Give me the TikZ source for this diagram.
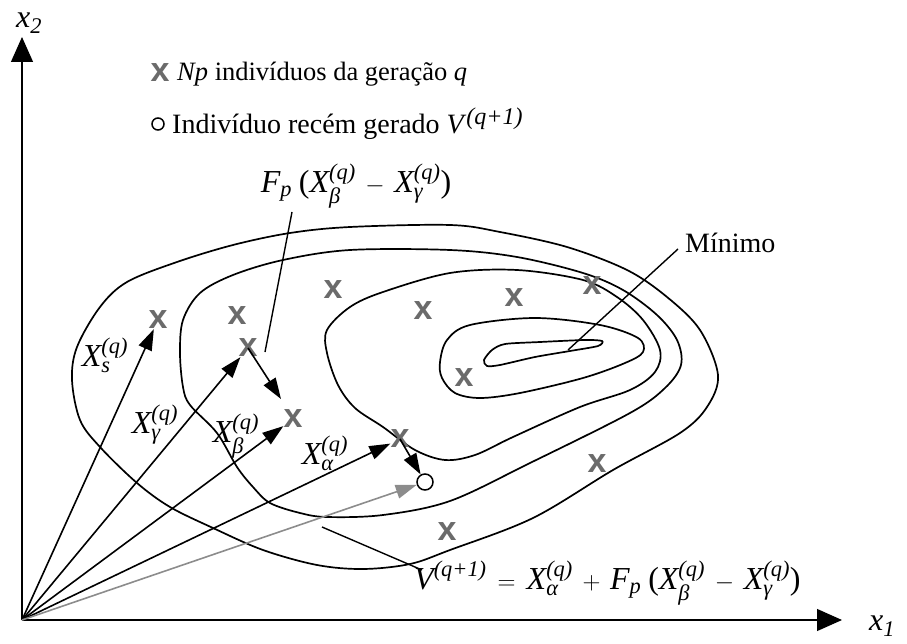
\documentclass[tikz,border=0pt]{standalone}
\usepackage{fontspec}
\usepackage{amsmath}
\setmainfont{Liberation Serif}
\newfontfamily\markfont{Liberation Sans}
\usetikzlibrary{arrows.meta}
\definecolor{mkgray}{gray}{0.42}
\definecolor{arrgray}{gray}{0.55}
\newcommand{\XX}[1]{\textit{X}^{\textit{(q)}}_{\textit{#1}}}
\begin{document}
\begin{tikzpicture}[x=1pt,y=-1pt,
  txt/.style={font=\fontsize{28}{32}\selectfont, inner sep=0pt},
  fml/.style={font=\fontsize{32}{36}\selectfont, inner sep=0pt},
  lbl/.style={font=\fontsize{32}{36}\selectfont, inner sep=0pt},
  mk/.style={font=\fontsize{34}{34}\selectfont\markfont\bfseries, text=mkgray, inner sep=0pt},
  cont/.style={line width=1.7pt},
  vec/.style={line width=1.6pt,-{Triangle[length=21pt,width=14pt]}},
  axis/.style={line width=1.2pt,-{Triangle[length=25pt,width=22pt]}},
  lead/.style={line width=1.4pt}]
\useasboundingbox (0,0) rectangle (907,644);

% axes
\coordinate (O) at (22,620);
\coordinate (xe) at (842,620);
\coordinate (ye) at (22,37);
\draw[axis] (O) -- (xe);
\draw[axis] (O) -- (ye);
\node[lbl] (x2) at (29,23) {\textit{x}$_{\textit{2}}$};
\node[lbl] (x1) at (882,626) {\textit{x}$_{\textit{1}}$};

% legend
\node[mk] (lm) at (160,73) {x};
\node[txt, anchor=west, font=\fontsize{26.5}{30}\selectfont] (l1) at (177,74) {\textit{Np} indivíduos da geração \textit{q}};
\node[draw, circle, line width=1.5pt, minimum size=12pt, inner sep=0pt] (lc) at (158,124) {};
\node[txt, anchor=west] (l2) at (172,124) {Indivíduo recém gerado \textit{V}\raisebox{9pt}{\fontsize{24}{24}\selectfont\textit{(q+1)}}};

% contours
\draw[cont] plot[smooth cycle, tension=0.55] coordinates {
 (450,225) (350,227) (290,233) (233,245) (177,262) (127,282) (100,307) (77,347) (72,380) (80,420) (100,447) (137,483) (170,507) (213,528) (263,550) (317,565) (363,569) (410,564) (450,550) (533,518) (613,470) (680,433) (707,407) (718,375) (700,330) (667,297) (627,270) (567,247) (500,232)};
\draw[cont] plot[smooth cycle, tension=0.55] coordinates {
 (450,250) (350,250) (283,260) (233,275) (200,293) (183,320) (180,353) (183,387) (190,405) (217,433) (237,467) (253,487) (270,503) (300,513) (327,517) (383,515) (450,501) (530,463) (630,413) (665,388) (681,365) (677,340) (657,315) (623,290) (583,273) (517,257)};
\draw[cont] plot[smooth cycle, tension=0.55] coordinates {
 (450,273) (383,292) (350,307) (327,330) (327,353) (338,385) (355,408) (383,427) (415,450) (445,460) (475,455) (513,437) (580,407) (630,390) (655,372) (660,350) (643,320) (617,297) (583,280) (517,270)};
\draw[cont] plot[smooth cycle, tension=0.55] coordinates {
 (440,362) (447,340) (470,325) (535,318) (600,325) (638,338) (643,352) (625,363) (583,378) (520,393) (480,398) (455,393) (442,378)};
\draw[cont] plot[smooth cycle, tension=0.45] coordinates {
 (484,360) (492,350) (505,344) (540,342) (585,340) (602,341) (598,346) (570,351) (535,357) (500,365) (487,366)};

% individuals
\node[mk] (ps) at (158,320) {x};
\node[mk] (p2) at (237,316) {x};
\node[mk] (p3) at (333,290) {x};
\node[mk] (p4) at (423,311) {x};
\node[mk] (p5) at (514,298) {x};
\node[mk] (p6) at (592,286) {x};
\node[mk] (p7) at (464,378) {x};
\node[mk] (pg) at (248,348) {x};
\node[mk] (pb) at (293,419) {x};
\node[mk] (pa) at (400,439) {x};
\node[mk] (p8) at (597,464) {x};
\node[mk] (p9) at (447,532) {x};
\node[draw, circle, line width=1.5pt, minimum size=16pt, inner sep=0pt] (v) at (425,482) {};

% vectors
\draw[vec] (O) -- (ps);
\draw[vec] (O) -- (pg);
\draw[vec] (O) -- (pb);
\draw[vec] (O) -- (pa);
\draw[vec, color=arrgray] (O) -- (v);
\coordinate (d1) at (281,399);
\draw[vec] (pg.center) -- (d1);
\draw[vec] (pa.center) -- (v);

% vector labels
\node[lbl] (ls) at (105,355) {$\XX{s}$};
\node[lbl] (lg) at (155,425) {$\XX{γ}$};
\node[lbl] (lb) at (236,436) {$\XX{β}$};
\node[lbl] (la) at (325,453) {$\XX{α}$};

% formula top
\node[fml] (ft) at (356,186) {$\textit{F}_{\textit{p}}\;\textup{(}\XX{β} \mathbin{\,-\,} \XX{γ}\textup{)}$};
\coordinate (fl1) at (292,212);
\coordinate (fl2) at (265,352);
\draw[lead] (fl1) -- (fl2);

% minimum
\node[txt, anchor=west] (mn) at (685,243) {Mínimo};
\coordinate (ml1) at (678,249);
\coordinate (ml2) at (568,350);
\draw[lead] (ml1) -- (ml2);

% formula bottom
\node[fml, anchor=west] (fb) at (414,583) {$\textit{V}^{\textit{(q+1)}} \mathrel{\,=\,} \XX{α} \mathbin{\,+\,} \textit{F}_{\textit{p}}\;\textup{(}\XX{β} \mathbin{\,-\,} \XX{γ}\textup{)}$};
\coordinate (bl1) at (422,570);
\coordinate (bl2) at (322,527);
\draw[lead] (bl1) -- (bl2);
\end{tikzpicture}
\end{document}
